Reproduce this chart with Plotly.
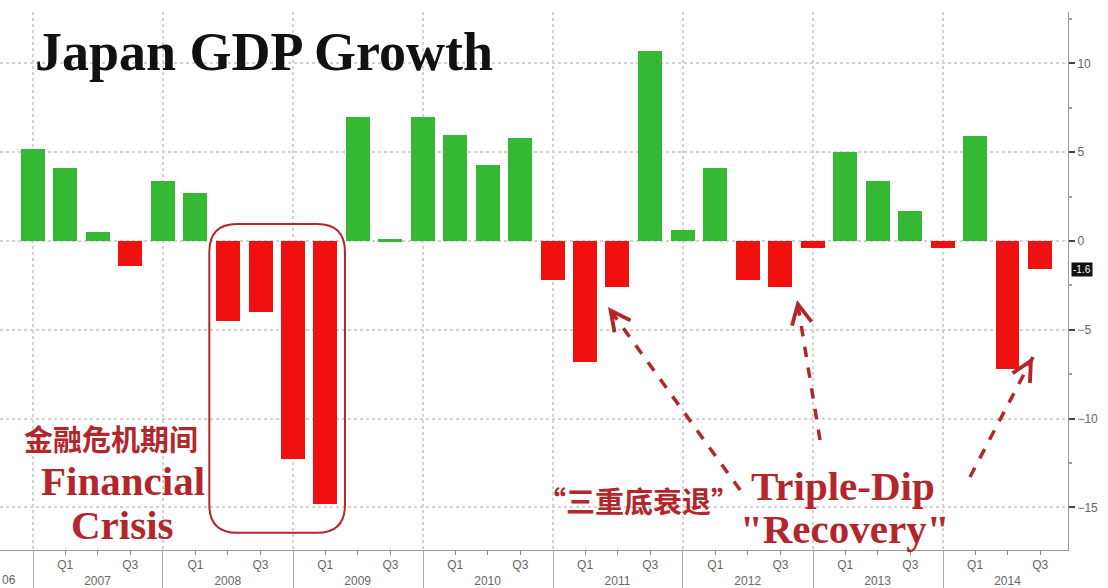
import pandas as pd
import plotly.graph_objects as go

# ---------------- data ----------------
quarters = [
    "2006Q4",
    "2007Q1", "2007Q2", "2007Q3", "2007Q4",
    "2008Q1", "2008Q2", "2008Q3", "2008Q4",
    "2009Q1", "2009Q2", "2009Q3", "2009Q4",
    "2010Q1", "2010Q2", "2010Q3", "2010Q4",
    "2011Q1", "2011Q2", "2011Q3", "2011Q4",
    "2012Q1", "2012Q2", "2012Q3", "2012Q4",
    "2013Q1", "2013Q2", "2013Q3", "2013Q4",
    "2014Q1", "2014Q2", "2014Q3",
]
gdp_growth = [
    5.2,
    4.1, 0.5, -1.4, 3.4,
    2.7, -4.5, -4.0, -12.3,
    -14.8, 7.0, 0.1, 7.0,
    6.0, 4.3, 5.8, -2.2,
    -6.8, -2.6, 10.7, 0.6,
    4.1, -2.2, -2.6, -0.4,
    5.0, 3.4, 1.7, -0.4,
    5.9, -7.2, -1.6,
]
years = [2007, 2008, 2009, 2010, 2011, 2012, 2013, 2014]
q_labels = ["Q1", "Q3"]
y_ticks = [10, 5, 0, -5, -10, -15]

title_text = "Japan GDP Growth"
crisis_cn = "金融危机期间"
crisis_en1 = "Financial"
crisis_en2 = "Crisis"
dip_cn = "“三重底衰退”"
dip_en1 = "Triple-Dip"
dip_en2 = "\"Recovery\""

# ---------------- styles ----------------
GREEN = "#35b935"
RED = "#f01010"
DARKRED = "#b3262c"
GRID = "#d2d2d2"
TICKTXT = "#666666"

# bars are plotted at the end of each quarter (start of next one)
x_dates = [(pd.Period(q, freq="Q") + 1).start_time for q in quarters]
colors = [GREEN if v >= 0 else RED for v in gdp_growth]
bar_width_ms = 67.4 * 86400000

tickvals, ticktext = [], []
for yr in years:
    tickvals += [f"{yr}-04-01", f"{yr}-07-01", f"{yr}-10-01"]
    ticktext += [q_labels[0], f"\u00a0<br>{yr}", q_labels[1]]

fig = go.Figure()
fig.add_trace(go.Bar(
    x=x_dates, y=gdp_growth, width=bar_width_ms,
    marker=dict(color=colors, line=dict(width=0)),
    hoverinfo="x+y", showlegend=False,
))

fig.update_layout(
    width=1108, height=588,
    margin=dict(l=0, r=40, t=12, b=38),
    paper_bgcolor="white", plot_bgcolor="white",
    font=dict(family="Liberation Sans", size=12, color=TICKTXT),
    bargap=0,
    xaxis=dict(
        type="date",
        range=["2006-09-30", "2014-12-18"],
        tickmode="array", tickvals=tickvals, ticktext=ticktext,
        ticks="outside", ticklen=4, tickwidth=1, tickcolor="#888",
        showgrid=False, showline=True, linecolor="#999", linewidth=1,
        tickfont=dict(family="Liberation Sans", size=12, color=TICKTXT),
        minor=dict(tick0="2007-01-01", dtick="M12", ticks="outside",
                   ticklen=40, tickwidth=1, tickcolor="#aaa",
                   showgrid=True, gridcolor=GRID, griddash="dot", gridwidth=1.5),
        zeroline=False,
    ),
    yaxis=dict(
        side="right", range=[-17.4, 12.9],
        tickmode="array", tickvals=y_ticks,
        ticks="outside", ticklen=6, tickwidth=2, tickcolor="#444",
        showgrid=True, gridcolor=GRID, griddash="dot", gridwidth=1.5,
        showline=True, linecolor="#999", linewidth=1,
        zeroline=False,
        tickfont=dict(family="Liberation Sans", size=12, color=TICKTXT),
        minor=dict(dtick=2.5, ticks="outside", ticklen=3, tickcolor="#999", showgrid=False),
    ),
)

# ---------------- decorations ----------------
x0, x1, y0, y1 = 0.196, 0.323, 0.032, 0.606
rx, ry = 0.026, 0.052
path = (f"M{x0+rx},{y1} L{x1-rx},{y1} Q{x1},{y1} {x1},{y1-ry} "
        f"L{x1},{y0+ry} Q{x1},{y0} {x1-rx},{y0} L{x0+rx},{y0} "
        f"Q{x0},{y0} {x0},{y0+ry} L{x0},{y1-ry} Q{x0},{y1} {x0+rx},{y1} Z")
shapes = [dict(type="path", xref="paper", yref="paper", path=path,
               line=dict(color=DARKRED, width=2))]

arrows = [  # tail (x,y) -> head (x,y) in paper coords, head pixel offset
    ((0.693, 0.1115), (0.5693, 0.4517), (6, 8)),
    ((0.7678, 0.2045), (0.7463, 0.4647), (2, 10)),
    ((0.9082, 0.1357), (0.9672, 0.3587), (-5, 9)),
]
annotations = []
for (tx, ty), (hx, hy), (ax, ay) in arrows:
    shapes.append(dict(type="line", xref="paper", yref="paper",
                       x0=tx, y0=ty, x1=hx, y1=hy,
                       line=dict(color=DARKRED, width=3.5, dash="dash")))
    annotations.append(dict(xref="paper", yref="paper", x=hx, y=hy,
                            ax=ax, ay=ay, text="", showarrow=True,
                            arrowhead=5, arrowsize=1.3, arrowwidth=3,
                            arrowcolor=DARKRED))

serif_red = dict(family="Liberation Serif", size=41, color=DARKRED, weight=700)
cjk_red = dict(family="Noto Sans CJK SC", size=29, color=DARKRED, weight=700)
annotations += [
    dict(xref="paper", yref="paper", x=0.031, y=0.926, xanchor="left", yanchor="middle",
         text=title_text, showarrow=False,
         font=dict(family="Liberation Serif", size=54, color="#111111", weight=700)),
    dict(xref="paper", yref="paper", x=0.104, y=0.208, xanchor="center", yanchor="middle",
         text=crisis_cn, showarrow=False, font=cjk_red),
    dict(xref="paper", yref="paper", x=0.115, y=0.128, xanchor="center", yanchor="middle",
         text=crisis_en1, showarrow=False, font=serif_red),
    dict(xref="paper", yref="paper", x=0.115, y=0.046, xanchor="center", yanchor="middle",
         text=crisis_en2, showarrow=False, font=serif_red),
    dict(xref="paper", yref="paper", x=0.598, y=0.093, xanchor="center", yanchor="middle",
         text=dip_cn, showarrow=False, font=cjk_red),
    dict(xref="paper", yref="paper", x=0.789, y=0.119, xanchor="center", yanchor="middle",
         text=dip_en1, showarrow=False, font=serif_red),
    dict(xref="paper", yref="paper", x=0.791, y=0.039, xanchor="center", yanchor="middle",
         text=dip_en2, showarrow=False, font=serif_red),
    dict(xref="paper", yref="y", x=1, y=gdp_growth[-1], xanchor="left", yanchor="middle",
         xshift=3, text=f"{gdp_growth[-1]:.1f}", showarrow=False,
         bgcolor="#111111", font=dict(family="Liberation Sans", size=10, color="white")),
    dict(xref="paper", yref="paper", x=0.0, y=-0.056, xanchor="left", yanchor="middle",
         text="06", showarrow=False,
         font=dict(family="Liberation Sans", size=12, color=TICKTXT)),
]

fig.update_layout(shapes=shapes, annotations=annotations)
fig.write_html(
    "out.html",
    config={"displayModeBar": False},
    post_script="document.body.style.margin='0';document.body.style.overflow='hidden';",
)
